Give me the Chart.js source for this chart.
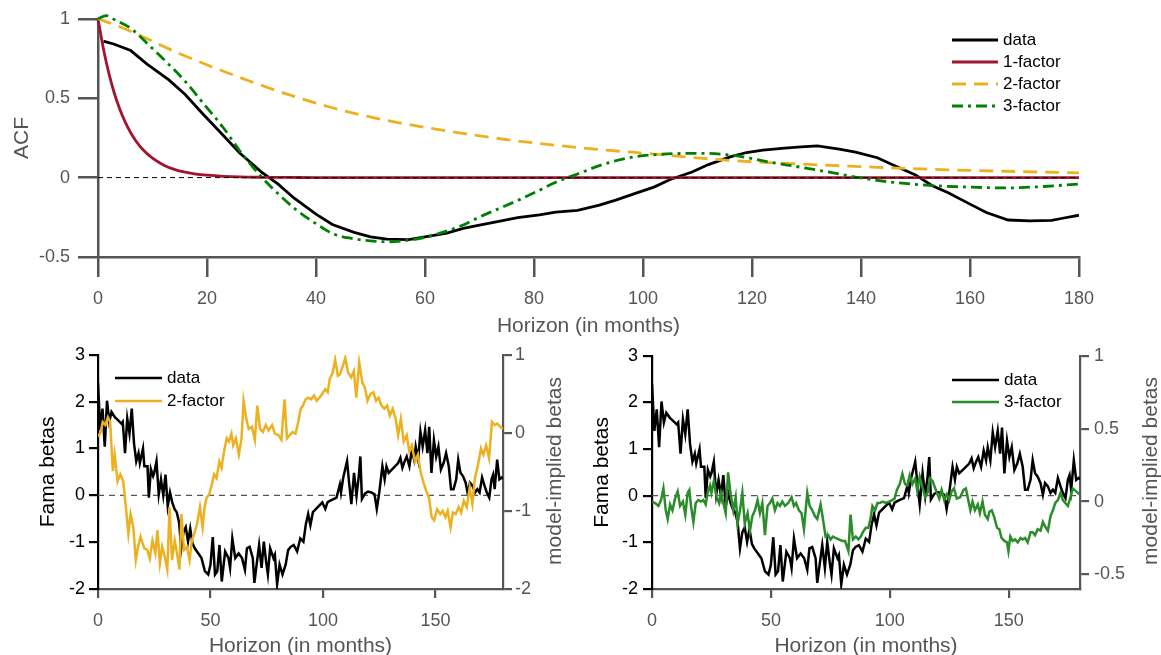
<!DOCTYPE html>
<html>
<head>
<meta charset="utf-8">
<script src="https://cdn.jsdelivr.net/npm/chart.js@4.4.0/dist/chart.umd.min.js"></script>
<style>
  html, body { margin: 0; padding: 0; background: #fff; }
  #wrap { position: relative; width: 1161px; height: 655px; overflow: hidden; }
  canvas { position: absolute; }
</style>
</head>
<body>
<div id="wrap">
  <canvas id="acf" width="1161" height="340" style="left:0;top:0;width:1161px;height:340px"></canvas>
  <canvas id="beta2" width="580" height="315" style="left:0;top:340px;width:580px;height:315px"></canvas>
  <canvas id="beta3" width="581" height="315" style="left:580px;top:340px;width:581px;height:315px"></canvas>
</div>
<script>
// ---- top panel: autocorrelation functions ----
const lagsData = [1,3,6,9,13,16,19,23,26,30,33,36,40,43,47,50,53,57,60,64,67,70,74,77,81,84,88,92,95,99,102,105,109,112,116,119,122,126,129,132,136,139,143,146,150,153,156,160,163,167,171,175,177,180];
const acfData = [0.86,0.84,0.80,0.715,0.615,0.523,0.41,0.265,0.155,0.035,-0.04,-0.13,-0.23,-0.295,-0.345,-0.373,-0.388,-0.39,-0.374,-0.35,-0.32,-0.30,-0.272,-0.252,-0.235,-0.217,-0.206,-0.173,-0.142,-0.095,-0.06,-0.012,0.035,0.082,0.13,0.158,0.173,0.186,0.194,0.2,0.18,0.16,0.125,0.078,0.017,-0.05,-0.095,-0.167,-0.22,-0.267,-0.273,-0.27,-0.256,-0.237];

const lags1 = [0,1,2,3,4,5,6,7,8,10,12,14,16,18,20,23,26,30,35,40,180];
const acf1 = [1,0.81,0.656,0.531,0.43,0.349,0.282,0.229,0.185,0.122,0.08,0.052,0.034,0.022,0.015,0.008,0.004,0.002,0.001,0,0];

const lags2 = [0,4,8,15,23,33,43,53,64,76,88,102,116,129,143,156,170,180];
const acf2 = [1,0.95,0.89,0.78,0.67,0.545,0.44,0.36,0.294,0.235,0.19,0.148,0.108,0.085,0.065,0.049,0.037,0.03];

const lags3 = [0,1.5,3,6,9,12.5,16,19.5,23,26,29.5,33,36.5,40,43,46.5,50,53.5,57,60,63.5,67,70,73.5,77,80.5,84,88,92,95,98.5,102,108,112,115.5,119,122.5,129,136,140,146,153,160,166.5,173.5,180];
const acf3 = [1.0,1.02,0.995,0.94,0.846,0.73,0.606,0.46,0.314,0.169,0.023,-0.10,-0.206,-0.29,-0.352,-0.383,-0.398,-0.404,-0.394,-0.377,-0.342,-0.298,-0.248,-0.196,-0.144,-0.088,-0.029,0.023,0.075,0.106,0.131,0.144,0.152,0.152,0.144,0.127,0.102,0.065,0.023,-0.002,-0.03,-0.05,-0.06,-0.065,-0.056,-0.04];

// ---- bottom panels: Fama betas (same series in both) ----
const hBeta = [0,1,2,3,4,5,6,7.5,9,10.4,11,12,13,14,15,16,17,18,18.6,20,20.6,22,22.6,23.5,24.5,25,26,27,28,29,30,31,32,33,34,35,36,37,38,39,40,41,42,43,45,46,47.5,49,50,51,52,53,54,55,56.5,58,58.7,59.7,61,62.5,64,65.3,66.2,67.4,68.8,69.5,70.5,71.6,72.7,73.7,74.7,75.5,76.5,78,78.6,79.6,80.7,82,83.4,84.5,85.6,87,88.5,89.9,91.3,92.4,93.4,94.4,95.5,96.9,98.3,99.7,101,102,103,104.7,106,107.5,108,109,110.7,111.6,112.6,113.8,114.9,115.9,116.6,117.3,118.7,120,121.5,122.9,123.9,125,126.4,127.4,128.2,129.2,130.6,132,133.4,134.4,135.3,136.3,137.2,138.4,139.5,140.5,141.2,142.3,143.3,144.3,145.4,146.4,147.2,148.2,149.3,150.3,151.3,152.4,153.6,154.7,155.9,156.9,158,159.2,160.1,161.1,162.2,163.4,164.4,165.3,166.5,167.6,168.6,169.6,170.7,171.8,172.8,173.9,174.9,175.6,176.3,177.4,178.4,179.4,180];
const famaBeta = [2.4,1.39,1.85,1.04,2.02,1.57,1.78,1.67,1.6,1.53,1.57,0.9,1.64,1.32,1.85,1.11,0.73,0.9,0.69,1.0,0.62,0.62,-0.05,0.56,0.41,0.48,0.73,0.02,0.34,0,0.44,-0.23,0.06,-0.15,-0.29,-0.36,-0.57,-1.13,-0.78,-0.68,-0.99,-0.71,-1.03,-1.13,-1.27,-1.34,-1.62,-1.69,-1.48,-0.89,-1.69,-1.62,-1.06,-1.84,-1.2,-1.34,-1.55,-0.92,-1.34,-1.24,-1.34,-1.59,-1.13,-1.1,-1.34,-1.87,-1.48,-1.06,-1.55,-0.99,-1.41,-1.69,-1.13,-1.34,-1.27,-1.9,-1.48,-1.69,-1.48,-1.17,-1.1,-1.06,-1.2,-0.92,-0.99,-0.61,-0.4,-0.64,-0.36,-0.29,-0.22,-0.15,-0.29,-0.15,-0.12,-0.08,-0.05,0.23,0.06,0.38,0.73,0.27,-0.19,0.48,-0.01,0.41,0.83,-0.08,0.04,0.08,0.06,0.02,-0.29,0.06,0.62,0.34,0.62,0.48,0.55,0.62,0.69,0.8,0.59,0.73,0.83,0.62,0.97,0.76,1.04,0.76,1.36,1.04,1.39,0.9,1.46,0.48,1.18,0.83,1.04,0.55,0.69,0.9,0.62,0.13,0.13,0.34,0.76,0.48,0.41,0.27,0.02,0.27,0.2,0.06,0.13,0.06,0.38,0.2,0.06,-0.05,0.34,0.44,0.13,0.76,0.34,0.38,0.35];

// model-implied betas, 2-factor (right axis of left panel)
const h2f = [0,1.2,2.1,3.3,4.4,5.4,6.6,7.4,8.7,9.9,11.2,12.4,13.5,14.5,15.7,16.8,17.8,18.9,20.6,21.9,23,24.2,25.5,26.4,27.5,28.5,29.7,30.8,31.8,32.9,34.1,35.1,36.2,37.1,38.2,39.5,40.7,41.7,42.8,44,45.3,46.5,47.4,48.3,49.4,50.6,51.6,52.7,53.9,54.9,56,57.2,58.2,59.3,60.1,61.3,62.6,63.8,64.7,65.9,67,68.4,69.7,70.8,72,73.3,74.6,75.8,77.4,78.6,80.2,81.5,82.9,84,85.2,86.5,87.8,89,90.1,91.1,92.3,93.4,94.7,96,97.2,98.4,99.7,101,102.1,103,104.3,105.4,106.6,107.6,108.7,109.9,111.2,112.5,113.7,114.8,116.1,117.5,118.6,119.8,121.1,122.4,123.6,124.7,126,127.3,128.5,129.7,131,132.3,133.4,134.6,135.9,137.2,138.4,139.5,140.9,142.2,143.3,144.5,145.8,147.1,148.3,149.4,150.7,152.1,153.2,154.4,155.4,156.7,157.7,159,160.3,161.4,162.6,163.9,165.2,166.4,167.5,168.9,170.2,171.3,172.5,173.8,175.1,176.3,177.4,178.7,180];
const beta2f = [-0.05,0.01,0.14,0.1,0.2,0.14,-0.49,-0.28,-0.62,-0.53,-0.62,-0.95,-1.29,-1.04,-1.21,-1.63,-1.46,-1.33,-1.48,-1.5,-1.61,-1.38,-1.54,-1.25,-1.67,-1.46,-1.59,-1.75,-0.95,-1.63,-1.38,-1.54,-1.75,-1.04,-1.5,-1.46,-1.63,-1.38,-1.29,-1.17,-0.95,-1.21,-0.95,-0.83,-0.79,-0.66,-0.53,-0.58,-0.37,-0.45,-0.24,-0.07,-0.11,-0.01,-0.16,-0.07,-0.28,-0.07,0.41,0.18,0.05,0.08,-0.09,0.35,0.05,0.01,0.1,0.03,0.1,-0.01,-0.03,-0.09,0.43,-0.07,-0.03,0.01,-0.01,0.14,0.31,0.35,0.43,0.45,0.43,0.48,0.41,0.45,0.5,0.56,0.52,0.69,0.77,0.94,0.73,0.75,0.85,0.96,0.77,0.71,0.79,0.45,0.9,0.64,0.58,0.41,0.5,0.52,0.41,0.45,0.35,0.31,0.35,0.22,0.31,0.18,-0.03,0.18,-0.11,-0.03,-0.24,-0.16,-0.37,-0.28,-0.49,-0.62,-0.74,-0.83,-1.08,-1.12,-0.98,-1.04,-1,-1.08,-1,-1.21,-1.02,-1.04,-0.95,-1.02,-0.87,-0.95,-0.7,-0.91,-0.58,-0.41,-0.2,-0.28,-0.16,-0.32,0.14,0.1,0.12,0.08,0.05];

// model-implied betas, 3-factor (right axis of right panel)
const h3f = [0,1.3,2.7,3.8,4.8,5.8,6.6,7.6,8.6,9.7,10.8,11.8,13,14,15,15.7,16.4,17.4,18.4,19.5,20.6,21.6,22.6,23.4,24.4,25,26,27.2,28.2,29,30,31,32,33,34.2,35.2,36,37,38,39,40.2,41.2,42.2,43.3,44.4,45.4,46.4,47.5,48.6,49.6,50.6,51.7,52.8,53.8,54.8,55.9,57.3,58.7,59.7,60.6,61.8,62.9,63.9,65.3,66.3,67.4,68.5,69.5,70.9,71.9,73,74.1,75.1,76.1,77.2,78.6,80,81.2,82.6,83.5,84.5,85.7,86.8,87.8,88.7,89.9,91,92,92.7,93.8,94.8,95.8,96.9,98.3,99.7,101,102,103,104.2,105.3,106.4,107.4,108.4,109.5,110.7,111.6,112.6,113.7,114.9,115.9,116.9,118,119.8,120.8,121.8,122.9,124,125,126,127,128.2,129.6,131,132,133,133.9,134.8,135.8,137,137.9,139,140,141.2,141.9,142.9,144,145.1,146.1,147,148.2,149.3,149.9,150.7,151.7,152.7,153.8,155,155.9,156.9,158,159.2,160.1,161.1,162.2,163.4,164.4,165.3,166.5,167.6,168.6,169.6,170.7,171.8,172.8,173.8,174.9,176,177,178.4,179.8];
const beta3f = [0,-0.01,-0.03,0.01,0.09,-0.06,-0.12,-0.02,-0.06,0.02,0.07,-0.03,0,-0.09,0.06,0.08,-0.03,-0.14,-0.01,0.01,0,0.01,-0.02,0.06,0.11,0.06,0.14,0.03,-0.01,0.06,-0.01,-0.08,0.2,0.06,-0.06,0.03,-0.15,-0.06,0.06,-0.15,-0.08,-0.2,-0.1,-0.06,0.01,-0.08,-0.01,-0.23,-0.03,-0.01,0.02,-0.06,-0.01,-0.03,0,-0.03,-0.01,0.03,-0.03,-0.01,-0.06,-0.08,-0.19,0.06,-0.03,-0.06,-0.1,-0.12,-0.02,-0.12,-0.24,-0.23,-0.26,-0.24,-0.25,-0.26,-0.27,-0.27,-0.34,-0.09,-0.26,-0.24,-0.26,-0.24,-0.21,-0.18,-0.18,-0.11,-0.03,-0.06,-0.01,-0.01,0,-0.01,0,0.01,0.02,0.08,0.12,0.19,0.12,0.11,0.18,0.12,0.16,0.07,0.17,0.1,0.03,0.06,0.16,0.14,0.06,0.02,0.08,0.01,0.05,0.01,0.07,0.09,0.02,0.03,0.08,0.09,0.01,-0.06,0,-0.06,-0.02,-0.08,0,-0.09,-0.12,-0.07,-0.06,-0.11,-0.18,-0.19,-0.25,-0.27,-0.28,-0.34,-0.24,-0.27,-0.26,-0.28,-0.25,-0.26,-0.25,-0.28,-0.21,-0.21,-0.23,-0.19,-0.2,-0.14,-0.17,-0.2,-0.1,-0.06,-0.01,0.01,0.06,0.01,-0.01,-0.03,0.03,0.09,0.07,0.05];

// tick labels
const acfTicksY = [-0.5, 0, 0.5, 1];
const horizonTicksBottom = [0, 50, 100, 150];
const rightTicks2f = [-2, -1, 0, 1];
const rightTicks3f = [-0.5, 0, 0.5, 1];

const FONT = "'Liberation Sans', Arial, Helvetica, sans-serif";
Chart.defaults.font.family = FONT;
Chart.defaults.animation = false;

const GRAY = '#555555';
const xy = (xs, ys) => xs.map((x, i) => ({ x: x, y: ys[i] }));
const fixTicks = (vals) => (s) => { s.ticks = vals.map(v => ({ value: v })); };

// legend drawn as short line samples, like the original figure
const lineLegend = {
	id: 'lineLegend',
	afterDraw(chart, args, o) {
		if (o.x === undefined) return;
		const ctx = chart.ctx;
		ctx.save();
		ctx.font = '17px ' + FONT;
		ctx.textBaseline = 'middle';
		ctx.textAlign = 'left';
		let y = o.y;
		chart.data.datasets.forEach((ds) => {
			if (!ds.label) return;
			ctx.strokeStyle = ds.borderColor;
			ctx.lineWidth = ds.borderWidth;
			ctx.setLineDash(ds.borderDash || []);
			ctx.beginPath();
			ctx.moveTo(o.x, y);
			ctx.lineTo(o.x + o.len, y);
			ctx.stroke();
			ctx.fillStyle = '#000';
			ctx.fillText(ds.label, o.x + o.len + 5, y);
			y += o.row;
		});
		ctx.restore();
	}
};

// right-hand axis title, reading bottom to top
const sideTitle = {
	id: 'sideTitle',
	afterDraw(chart, args, o) {
		if (!o.text) return;
		const ctx = chart.ctx;
		ctx.save();
		ctx.translate(o.x, o.y);
		ctx.rotate(-Math.PI / 2);
		ctx.font = '21px ' + FONT;
		ctx.fillStyle = GRAY;
		ctx.textAlign = 'center';
		ctx.textBaseline = 'middle';
		ctx.fillText(o.text, 0, 0);
		ctx.restore();
	}
};

const line = (label, data, color, width, extra) => Object.assign({
	label: label,
	data: data,
	borderColor: color,
	borderWidth: width,
	pointRadius: 0,
	fill: false,
	tension: 0
}, extra || {});

// ---------- top chart ----------
new Chart(document.getElementById('acf'), {
	type: 'line',
	data: {
		datasets: [
			line('data', xy(lagsData, acfData), '#000000', 2.8, { order: 4 }),
			line('1-factor', xy(lags1, acf1), '#A2142F', 2.8, { order: 3, cubicInterpolationMode: 'monotone', clip: false }),
			line('2-factor', xy(lags2, acf2), '#EDB120', 2.8, { order: 2, borderDash: [14, 8], cubicInterpolationMode: 'monotone', clip: false }),
			line('3-factor', xy(lags3, acf3), '#008000', 2.8, { order: 1, borderDash: [11, 5, 3, 5], cubicInterpolationMode: 'monotone', clip: false }),
			line('', [{ x: 0, y: 0 }, { x: 180, y: 0 }], '#000000', 1, { order: 0, borderDash: [5, 4] })
		]
	},
	options: {
		responsive: false,
		layout: { padding: { left: 0, right: 82, top: 17, bottom: 0 } },
		plugins: {
			legend: { display: false },
			tooltip: { enabled: false },
			lineLegend: { x: 952, y: 40, len: 46, row: 22 }
		},
		scales: {
			x: {
				type: 'linear', min: 0, max: 180,
				ticks: { stepSize: 20, color: GRAY, font: { size: 18 }, padding: 11, maxRotation: 0 },
				grid: { drawOnChartArea: false, tickLength: 20, color: GRAY, lineWidth: 2.5 },
				border: { color: GRAY, width: 2.5 },
				title: { display: true, text: 'Horizon (in months)', color: GRAY, font: { size: 21 }, padding: { top: 0, bottom: 1 } },
				afterFit(s) { s.height = 83; }
			},
			y: {
				min: -0.5, max: 1,
				afterBuildTicks: fixTicks(acfTicksY),
				ticks: { color: GRAY, font: { size: 18 }, padding: 8, callback: (v) => String(v) },
				grid: { drawOnChartArea: false, tickLength: 20, color: GRAY, lineWidth: 2.5 },
				border: { color: GRAY, width: 2.5 },
				title: { display: true, text: 'ACF', color: GRAY, font: { size: 21 }, padding: { top: 10, bottom: 0 } },
				afterFit(s) { s.width = 98; }
			}
		}
	},
	plugins: [lineLegend]
});

// ---------- bottom charts ----------
function betaChart(id, modelLabel, modelData, modelColor, rightMin, rightTicks, sizes) {
	return new Chart(document.getElementById(id), {
		type: 'line',
		data: {
			datasets: [
				line('data', xy(hBeta, famaBeta), '#000000', 2.5, { order: 2, yAxisID: 'y' }),
				line(modelLabel, modelData, modelColor, 2.5, { order: 1, yAxisID: 'y2' }),
				line('', [{ x: 0, y: 0 }, { x: 180, y: 0 }], GRAY, 1.3, { order: 3, yAxisID: 'y', borderDash: [6, 5] })
			]
		},
		options: {
			responsive: false,
			layout: { padding: { left: 0, right: 0, top: 12, bottom: 0 } },
			plugins: {
				legend: { display: false },
				tooltip: { enabled: false },
				lineLegend: sizes.legend,
				sideTitle: { text: 'model-implied betas', x: sizes.titleX, y: 131 }
			},
			scales: {
				x: {
					type: 'linear', min: 0, max: 180,
					afterBuildTicks: fixTicks(horizonTicksBottom),
					ticks: { color: GRAY, font: { size: 18 }, padding: 12, maxRotation: 0 },
					grid: { drawOnChartArea: false, tickLength: 9, color: GRAY, lineWidth: 2.2 },
					border: { color: GRAY, width: 2.2 },
					title: { display: true, text: 'Horizon (in months)', color: GRAY, font: { size: 21 }, padding: { top: 0, bottom: -4 } },
					afterFit(s) { s.height = 66; }
				},
				y: {
					position: 'left', min: -2, max: 3,
					ticks: { stepSize: 1, color: '#000', font: { size: 18 }, padding: sizes.leftPad },
					grid: { drawOnChartArea: false, tickLength: 9, color: '#000', lineWidth: 2.2 },
					border: { color: '#000', width: 2.2 },
					title: { display: true, text: 'Fama betas', color: '#000', font: { size: 21 }, padding: { top: sizes.leftTitlePad, bottom: 0 } },
					afterFit(s) { s.width = sizes.leftW; }
				},
				y2: {
					position: 'right', min: rightMin, max: 1,
					afterBuildTicks: fixTicks(rightTicks),
					ticks: { color: GRAY, font: { size: 18 }, padding: sizes.rightPad, callback: (v) => String(v) },
					grid: { drawOnChartArea: false, tickLength: 9, color: GRAY, lineWidth: 2.2 },
					border: { color: GRAY, width: 2.2 },
					afterFit(s) { s.width = sizes.rightW; }
				}
			}
		},
		plugins: [lineLegend, sideTitle]
	});
}

betaChart('beta2', '2-factor', xy(h2f, beta2f), '#EDB120', -2, rightTicks2f, {
	legend: { x: 115, y: 38, len: 47, row: 23 },
	titleX: 555, leftW: 98, rightW: 77, leftPad: 4, rightPad: 3, leftTitlePad: 36
});
betaChart('beta3', '3-factor', xy(h3f, beta3f), '#2A8C2A', -0.6, rightTicks3f, {
	legend: { x: 372, y: 40, len: 47, row: 22 },
	titleX: 571, leftW: 72, rightW: 81, leftPad: 5, rightPad: 5, leftTitlePad: 10
});
</script>
</body>
</html>
